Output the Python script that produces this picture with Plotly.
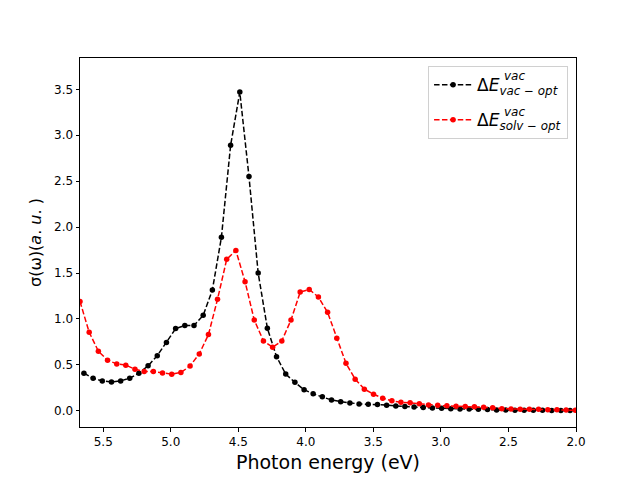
import plotly.graph_objects as go

# Black series: ΔE vac (vac-opt)
x_vac = [5.643, 5.575, 5.507, 5.439, 5.371, 5.304, 5.236, 5.168, 5.100, 5.032,
         4.964, 4.896, 4.828, 4.760, 4.692, 4.625, 4.557, 4.489, 4.421, 4.353,
         4.285, 4.217, 4.149, 4.081, 4.013, 3.946, 3.878, 3.810, 3.742, 3.674,
         3.606, 3.538, 3.470, 3.402, 3.334, 3.267, 3.199, 3.131, 3.063, 2.995,
         2.927, 2.859, 2.791, 2.723, 2.655, 2.588, 2.520, 2.452, 2.384, 2.316,
         2.248, 2.180, 2.112, 2.044]
y_vac = [0.41, 0.355, 0.326, 0.315, 0.326, 0.355, 0.41, 0.49, 0.60, 0.745,
         0.895, 0.93, 0.93, 1.04, 1.315, 1.89, 2.89, 3.47, 2.55, 1.50,
         0.90, 0.59, 0.40, 0.31, 0.23, 0.185, 0.152, 0.118, 0.100, 0.085,
         0.075, 0.071, 0.068, 0.062, 0.053, 0.046, 0.041, 0.035, 0.031, 0.028,
         0.024, 0.021, 0.019, 0.016, 0.014, 0.010, 0.008, 0.007, 0.006, 0.005,
         0.005, 0.004, 0.004, 0.004]

# Red series: ΔE vac (solv-opt)
x_solv = [5.672, 5.604, 5.536, 5.468, 5.400, 5.333, 5.265, 5.197, 5.129, 5.061,
          4.993, 4.925, 4.857, 4.789, 4.721, 4.654, 4.586, 4.518, 4.450, 4.382,
          4.314, 4.246, 4.178, 4.110, 4.042, 3.975, 3.907, 3.839, 3.771, 3.703,
          3.635, 3.567, 3.499, 3.431, 3.363, 3.296, 3.228, 3.160, 3.092, 3.024,
          2.956, 2.888, 2.820, 2.752, 2.684, 2.617, 2.549, 2.481, 2.413, 2.345,
          2.277, 2.209, 2.141, 2.073, 2.005]
y_solv = [1.19, 0.855, 0.649, 0.551, 0.511, 0.497, 0.453, 0.427, 0.427, 0.413,
          0.399, 0.417, 0.489, 0.62, 0.83, 1.214, 1.649, 1.746, 1.406, 0.989,
          0.761, 0.692, 0.761, 0.989, 1.293, 1.322, 1.239, 1.073, 0.79, 0.518,
          0.345, 0.236, 0.181, 0.138, 0.109, 0.094, 0.087, 0.076, 0.064, 0.060,
          0.054, 0.051, 0.048, 0.044, 0.040, 0.033, 0.024, 0.020, 0.018, 0.017,
          0.016, 0.012, 0.011, 0.010, 0.006]

x_ticks = [5.5, 5.0, 4.5, 4.0, 3.5, 3.0, 2.5, 2.0]
y_ticks = [0.0, 0.5, 1.0, 1.5, 2.0, 2.5, 3.0, 3.5]

series_labels = ["Δ<i>E</i><sub><i>vac − opt</i></sub>",
                 "Δ<i>E</i><sub><i>solv − opt</i></sub>"]
sup_label = "<i>vac</i>"

FONT = "DejaVu Sans"
dash = "5.5px,2.4px"

fig = go.Figure()
fig.add_trace(go.Scatter(
    x=x_vac, y=y_vac, mode="lines+markers", name=series_labels[0], legendgroup="a",
    line=dict(color="black", width=1.5, dash=dash),
    marker=dict(color="black", size=5.5),
))
fig.add_trace(go.Scatter(
    x=x_solv, y=y_solv, mode="lines+markers", name=series_labels[1], legendgroup="b",
    line=dict(color="red", width=1.5, dash=dash),
    marker=dict(color="red", size=5.5),
))

axis_common = dict(
    showline=True, linecolor="black", linewidth=1, mirror=True,
    ticks="outside", ticklen=3.5, tickwidth=1, tickcolor="black",
    showgrid=False, zeroline=False,
    tickfont=dict(family=FONT, size=12, color="black"),
)

# superscripts of the legend labels (stacked over the subscripts)
for ypix in (76, 112):
    fig.add_annotation(
        xref="paper", yref="paper",
        x=(502 - 80) / 496, y=(427.2 - ypix) / 369.6,
        xanchor="left", yanchor="middle", showarrow=False,
        text=sup_label, font=dict(family=FONT, size=12, color="black"),
    )

fig.update_layout(
    width=640, height=480,
    paper_bgcolor="white", plot_bgcolor="white",
    margin=dict(l=80, r=64, t=57.6, b=52.8),
    font=dict(family=FONT, color="black"),
    xaxis=dict(range=[5.672, 2.0], tickvals=x_ticks,
               ticktext=[f"{v:.1f}" for v in x_ticks],
               title=dict(text="Photon energy (eV)", font=dict(family=FONT, size=19), standoff=7),
               **axis_common),
    yaxis=dict(range=[-0.176, 3.841], tickvals=y_ticks,
               ticktext=[f"{v:.1f}" for v in y_ticks],
               title=dict(text="σ(ω)(<i>a</i>. <i>u</i>. )", font=dict(family=FONT, size=16), standoff=8),
               **axis_common),
    legend=dict(x=0.984, y=0.978, xanchor="right", yanchor="top",
                bgcolor="rgba(255,255,255,0.8)", bordercolor="#d0d0d0", borderwidth=1,
                font=dict(family=FONT, size=17), itemwidth=38, tracegroupgap=10),
    showlegend=True,
)

fig.write_html("out.html", config={"displayModeBar": False},
               post_script="document.body.style.margin='0';document.body.style.padding='0';")
